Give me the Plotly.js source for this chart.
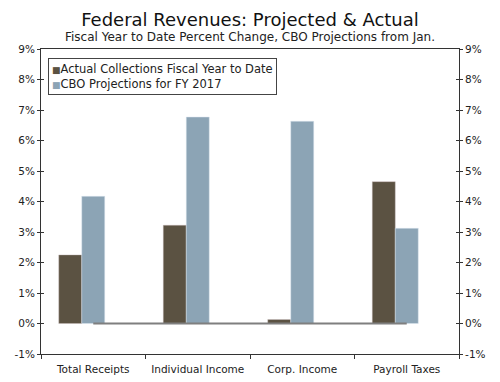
<!DOCTYPE html>
<html>
<head>
<meta charset="utf-8">
<script src="https://cdn.plot.ly/plotly-3.0.1.min.js"></script>
<style>html,body{margin:0;padding:0;background:#fff;}#chart{width:500px;height:382px;}</style>
</head>
<body>
<div id="chart"></div>
<script>
const categories = ["Total Receipts", "Individual Income", "Corp. Income", "Payroll Taxes"];
const seriesNames = ["Actual Collections Fiscal Year to Date", "CBO Projections for FY 2017"];
const actualCollections = [2.25, 3.22, 0.13, 4.65];
const cboProjections = [4.17, 6.77, 6.63, 3.12];
const spacerSeries = [0, 0, 0, 0];
const zeroLine = [0, 0, 0, 0];
const yTickValues = [-1, 0, 1, 2, 3, 4, 5, 6, 7, 8, 9];
const yTickLabels = ["-1%", "0%", "1%", "2%", "3%", "4%", "5%", "6%", "7%", "8%", "9%"];

const fontFam = "Verdana, 'DejaVu Sans', sans-serif";
const axisColor = "#333333";
const colors = ["#5b5242", "#8ca4b5"];

const traces = [
  {type: "bar", name: seriesNames[0], x: categories, y: actualCollections, showlegend: false,
   marker: {color: colors[0], line: {color: "rgba(200,185,185,0.7)", width: 0.6}}},
  {type: "bar", name: seriesNames[1], x: categories, y: cboProjections, showlegend: false,
   marker: {color: colors[1], line: {color: "rgba(220,230,240,0.8)", width: 0.6}}},
  {type: "bar", name: "spacer", x: categories, y: spacerSeries, showlegend: false, hoverinfo: "skip",
   marker: {color: "rgba(0,0,0,0)"}},
  {type: "scatter", mode: "lines", name: "zero", x: categories, y: zeroLine, showlegend: false,
   line: {color: "#7f7f7f", width: 2}}
];

const yCommon = {range: [-1, 9], tickvals: yTickValues, ticktext: yTickLabels, showgrid: false,
  zeroline: false, showline: true, linecolor: axisColor, linewidth: 1, ticklen: 3, tickwidth: 1, tickcolor: axisColor,
  tickfont: {family: fontFam, size: 10.5, color: "#222"}, fixedrange: true};

const legendText = seriesNames.map((n, i) =>
  "<span style='color:" + colors[i] + "; font-size:9px'>■</span>" + n).join("<br>");

const layout = {
  width: 500, height: 382,
  margin: {l: 41, r: 41, t: 49, b: 28},
  paper_bgcolor: "#fff", plot_bgcolor: "#fff",
  font: {family: fontFam, color: "#222"},
  barmode: "group", bargap: 0.34, bargroupgap: 0,
  title: {text: "Federal Revenues: Projected &amp; Actual", font: {family: fontFam, size: 18, color: "#111"},
          x: 0.5, xanchor: "center", y: 0.948, yanchor: "middle"},
  annotations: [
    {text: "Fiscal Year to Date Percent Change, CBO Projections from Jan.", xref: "paper", yref: "paper",
     x: 0.5, y: 1.0, yshift: 3, xanchor: "center", yanchor: "bottom", showarrow: false,
     font: {family: fontFam, size: 12, color: "#222"}},
    {text: legendText, xref: "paper", yref: "paper", x: 0.016, y: 0.972, xanchor: "left", yanchor: "top",
     align: "left", showarrow: false, bgcolor: "#fff", bordercolor: "#444", borderwidth: 1, borderpad: 3,
     font: {family: fontFam, size: 11.5, color: "#222"}}
  ],
  xaxis: {type: "category", showgrid: false, zeroline: false, showline: true, linecolor: axisColor, linewidth: 1,
    mirror: true, ticks: "outside", tickson: "boundaries", ticklen: 4, tickwidth: 1, tickcolor: axisColor,
    tickangle: 0, ticklabelstandoff: 5, tickfont: {family: fontFam, size: 10.5, color: "#222"}, fixedrange: true},
  yaxis: Object.assign({}, yCommon, {side: "left", ticks: "outside"}),
  yaxis2: Object.assign({}, yCommon, {side: "right", overlaying: "y", ticks: "outside"}),
  yaxis3: Object.assign({}, yCommon, {side: "left", overlaying: "y", ticks: "inside", showticklabels: false}),
  yaxis4: Object.assign({}, yCommon, {side: "right", overlaying: "y", ticks: "inside", showticklabels: false}),
  showlegend: false
};

// invisible helper traces so the overlay axes are drawn
["y2", "y3", "y4"].forEach(ax => traces.push({type: "scatter", mode: "lines", x: categories, y: zeroLine, yaxis: ax,
  showlegend: false, hoverinfo: "skip", line: {width: 0}}));

Plotly.newPlot("chart", traces, layout, {displayModeBar: false, staticPlot: true});
</script>
</body>
</html>
